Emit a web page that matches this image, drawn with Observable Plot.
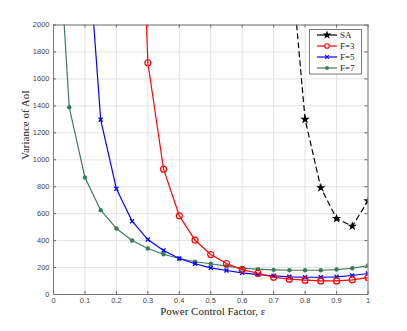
<!DOCTYPE html>
<html><head><meta charset="utf-8">
<script src="https://cdn.jsdelivr.net/npm/d3@7"></script>
<script src="https://cdn.jsdelivr.net/npm/@observablehq/plot@0.6"></script>
<style>
body{margin:0;background:#fff}
#wrap{position:relative;width:407px;height:331px}
#legend{position:absolute;left:0;top:0}
</style>
</head><body><div id="wrap"></div>
<script>
// ---- data ----
const saX  = [0.75, 0.8, 0.85, 0.9, 0.95, 1];
const saY  = [2600, 1300, 792, 564, 507, 695];
const f3X  = [0.25, 0.3, 0.35, 0.4, 0.45, 0.5, 0.55, 0.6, 0.65, 0.7, 0.75, 0.8, 0.85, 0.9, 0.95, 1];
const f3Y  = [5000, 1720, 930, 584, 403, 297, 230, 185, 158, 128, 114, 106, 101, 101, 109, 126];
const f5X  = [0.1, 0.15, 0.2, 0.25, 0.3, 0.35, 0.4, 0.45, 0.5, 0.55, 0.6, 0.65, 0.7, 0.75, 0.8, 0.85, 0.9, 0.95, 1];
const f5Y  = [2900, 1297, 784, 544, 408, 327, 267, 228, 198, 178, 161, 148, 139, 131, 128, 128, 131, 141, 156];
const f7X  = [0, 0.05, 0.1, 0.15, 0.2, 0.25, 0.3, 0.35, 0.4, 0.45, 0.5, 0.55, 0.6, 0.65, 0.7, 0.75, 0.8, 0.85, 0.9, 0.95, 1];
const f7Y  = [3300, 1390, 868, 626, 490, 401, 341, 299, 267, 243, 228, 210, 195, 188, 183, 180, 180, 180, 185, 195, 215];
const xTicks = [0, 0.1, 0.2, 0.3, 0.4, 0.5, 0.6, 0.7, 0.8, 0.9, 1];
const xTickLabels = ["0", "0.1", "0.2", "0.3", "0.4", "0.5", "0.6", "0.7", "0.8", "0.9", "1"];
const yTicks = [0, 200, 400, 600, 800, 1000, 1200, 1400, 1600, 1800, 2000];
const yTickLabels = ["0", "200", "400", "600", "800", "1000", "1200", "1400", "1600", "1800", "2000"];
const seriesNames = ["SA", "F=3", "F=5", "F=7"];
const xLabel = "Power Control Factor, \u03b5";
const yLabel = "Variance of AoI";

// ---- layout ----
const W = 407, H = 331, mL = 53, mR = 39.5, mT = 24.5, mB = 37;
const ph = H - mT - mB, pw = W - mL - mR;
const cRed = "#ff0000", cBlue = "#0000ff", cGreen = "#3d7a58", cBlack = "#000";
const serif = "'Liberation Serif', 'DejaVu Serif', serif";

const sa = saX.map((x, i) => ({x, y: saY[i]}));
const f3 = f3X.map((x, i) => ({x, y: f3Y[i]}));
const f5 = f5X.map((x, i) => ({x, y: f5Y[i]}));
const f7 = f7X.map((x, i) => ({x, y: f7Y[i]}));

const chart = Plot.plot({
  width: W, height: H,
  marginLeft: mL, marginRight: mR, marginTop: mT, marginBottom: mB,
  style: {fontFamily: "'Liberation Sans', Arial, sans-serif", fontSize: "7.5px", color: "#444", background: "#fff"},
  x: {domain: [0, 1]},
  y: {domain: [0, 2000]},
  marks: [
    Plot.ruleX(xTicks, {x: d => d, stroke: "#e3e3e3"}),
    Plot.ruleY(yTicks, {y: d => d, stroke: "#e3e3e3"}),
    Plot.axisX(xTicks, {tickSize: 0, tickPadding: 3.5, tickFormat: d => xTickLabels[xTicks.indexOf(d)], label: null, fill: "#444"}),
    Plot.axisY(yTicks, {tickSize: 0, tickPadding: 4, tickFormat: d => yTickLabels[yTicks.indexOf(d)], label: null, fill: "#444"}),
    Plot.tickX(xTicks, {x: d => d, insetTop: ph - 3, stroke: "#666"}),
    Plot.tickX(xTicks, {x: d => d, insetBottom: ph - 3, stroke: "#666"}),
    Plot.tickY(yTicks, {y: d => d, insetRight: pw - 3, stroke: "#666"}),
    Plot.tickY(yTicks, {y: d => d, insetLeft: pw - 3, stroke: "#666"}),
    // series
    Plot.line(f7, {x: "x", y: "y", stroke: cGreen, strokeWidth: 1.2, clip: true}),
    Plot.dot(f7, {x: "x", y: "y", fill: cGreen, r: 2.2, clip: true}),
    Plot.line(f5, {x: "x", y: "y", stroke: cBlue, strokeWidth: 1.2, clip: true}),
    Plot.dot(f5, {x: "x", y: "y", symbol: "times", stroke: cBlue, strokeWidth: 1.3, r: 2, clip: true}),
    Plot.line(f3, {x: "x", y: "y", stroke: cRed, strokeWidth: 1.2, clip: true}),
    Plot.dot(f3, {x: "x", y: "y", symbol: "circle", stroke: cRed, fill: "none", strokeWidth: 1.2, r: 3, clip: true}),
    Plot.line(sa, {x: "x", y: "y", stroke: cBlack, strokeWidth: 1.2, strokeDasharray: "5,4", clip: true}),
    Plot.dot(sa, {x: "x", y: "y", symbol: "star", fill: cBlack, r: 3, clip: true}),
    Plot.frame({stroke: "#777", strokeWidth: 1}),
    Plot.text([xLabel], {frameAnchor: "bottom", dy: 20.5, dx: 2, fontFamily: serif, fontSize: 11, fill: "#222"}),
    Plot.text([yLabel], {frameAnchor: "left", dx: -28, rotate: -90, fontFamily: serif, fontSize: 11, fill: "#222"})
  ]
});
document.getElementById("wrap").appendChild(chart);

// ---- legend ----
const lg = d3.select("#wrap").append("svg").attr("id", "legend").attr("width", W).attr("height", H);
lg.append("rect").attr("x", 309.5).attr("y", 29.5).attr("width", 52).attr("height", 44.5)
  .attr("fill", "#fff").attr("stroke", "#777");
const legendStyles = [
  {c: cBlack, sym: d3.symbolStar, fill: cBlack, stroke: "none", size: 24},
  {c: cRed, sym: d3.symbolCircle, fill: "#fff", stroke: cRed, size: 16},
  {c: cBlue, sym: d3.symbolTimes, fill: "none", stroke: cBlue, size: 10},
  {c: cGreen, sym: d3.symbolCircle, fill: cGreen, stroke: "none", size: 12}
];
seriesNames.forEach((name, i) => {
  const y = 35 + i * 11;
  const s = legendStyles[i];
  lg.append("line").attr("x1", 317).attr("x2", 337).attr("y1", y).attr("y2", y)
    .attr("stroke", s.c).attr("stroke-width", 1.2);
  lg.append("path").attr("d", d3.symbol(s.sym, s.size)()).attr("transform", `translate(327,${y})`)
    .attr("fill", s.fill).attr("stroke", s.stroke).attr("stroke-width", 1.1);
  lg.append("text").attr("x", 340).attr("y", y).attr("dy", "0.35em")
    .attr("font-family", serif).attr("font-size", 9).attr("fill", "#222").text(name);
});
</script>
</body></html>
